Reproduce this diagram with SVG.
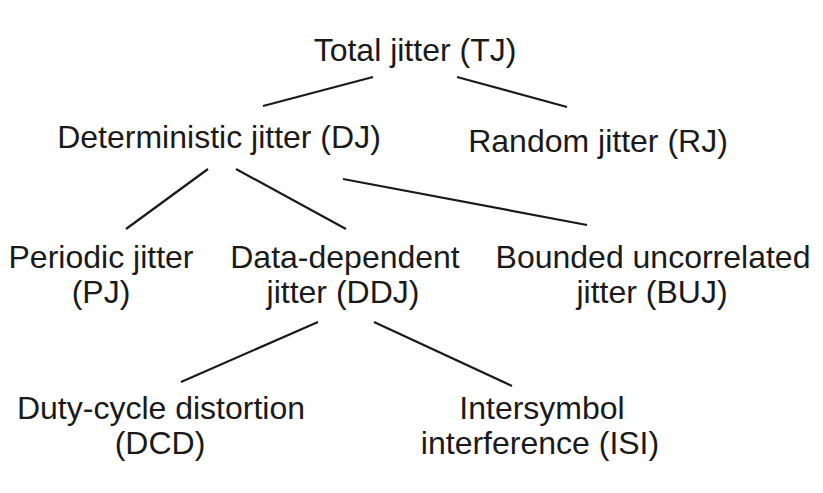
<svg xmlns="http://www.w3.org/2000/svg" width="823" height="493" viewBox="0 0 823 493">
<style>
text{font-family:"Liberation Sans",Arial,Helvetica,sans-serif;font-size:32px;fill:#1a1a1a;text-anchor:middle}
.c line{stroke:#1a1a1a;stroke-width:2.2;stroke-linecap:butt}
</style>
<rect width="823" height="493" fill="#ffffff"/>
<g class="c" id="connectors">
<line x1="373" y1="77" x2="263" y2="106"/>
<line x1="457" y1="77" x2="567" y2="107"/>
<line x1="208" y1="169" x2="126" y2="229"/>
<line x1="236" y1="169" x2="346" y2="229"/>
<line x1="343" y1="179" x2="587" y2="225"/>
<line x1="318" y1="322" x2="181" y2="382"/>
<line x1="374" y1="322" x2="512" y2="386"/>
</g>
<g id="tj"><text x="415" y="61">Total jitter (TJ)</text></g>
<g id="dj"><text x="219" y="148">Deterministic jitter (DJ)</text></g>
<g id="rj"><text x="598" y="152">Random jitter (RJ)</text></g>
<g id="pj"><text x="101" y="268">Periodic jitter</text><text x="101" y="303">(PJ)</text></g>
<g id="ddj"><text x="345" y="268">Data-dependent</text><text x="343" y="303">jitter (DDJ)</text></g>
<g id="buj"><text x="653" y="268">Bounded uncorrelated</text><text x="652" y="303">jitter (BUJ)</text></g>
<g id="dcd"><text x="161" y="419">Duty-cycle distortion</text><text x="160" y="454">(DCD)</text></g>
<g id="isi"><text x="542" y="419">Intersymbol</text><text x="540" y="454">interference (ISI)</text></g>
</svg>
